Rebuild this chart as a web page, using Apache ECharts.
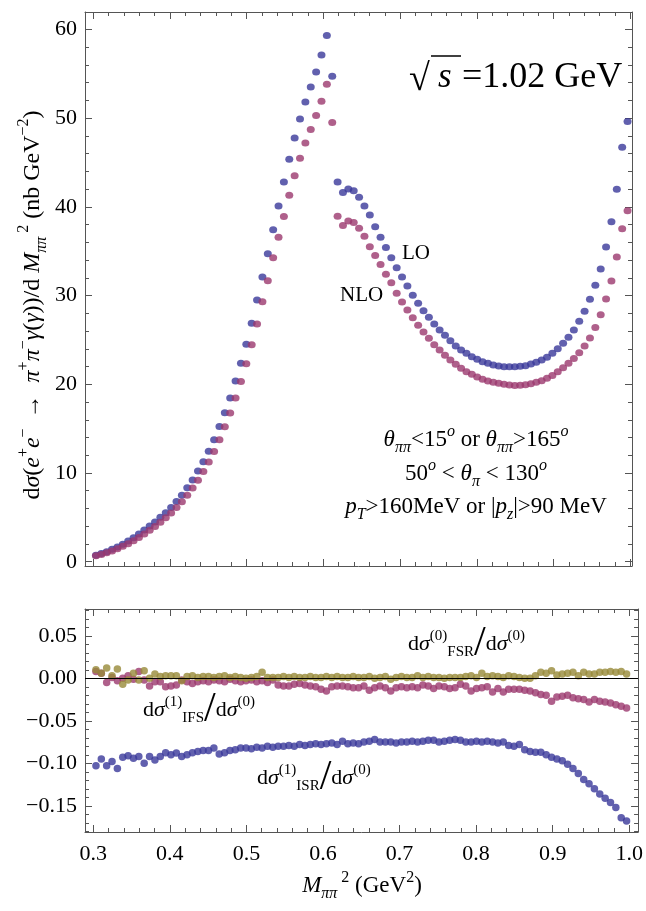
<!DOCTYPE html>
<html>
<head>
<meta charset="utf-8">
<script src="https://cdn.jsdelivr.net/npm/echarts@6/dist/echarts.min.js"></script>
<style>
html,body{margin:0;padding:0;background:#fff;}
#c{width:646px;height:911px;}
</style>
</head>
<body>
<div id="c"></div>
<script>
// ---- data ----
const M2 = [0.3035,0.3105,0.3175,0.3245,0.3315,0.3385,0.3455,0.3525,0.3595,0.3665,
0.3735,0.3805,0.3875,0.3945,0.4015,0.4085,0.4155,0.4225,0.4295,0.4365,
0.4435,0.4505,0.4575,0.4645,0.4715,0.4785,0.4855,0.4925,0.4995,0.5065,
0.5135,0.5205,0.5275,0.5345,0.5415,0.5485,0.5555,0.5625,0.5695,0.5765,
0.5835,0.5905,0.5975,0.6045,0.6115,0.6185,0.6255,0.6325,0.6395,0.6465,
0.6535,0.6605,0.6675,0.6745,0.6815,0.6885,0.6955,0.7025,0.7095,0.7165,
0.7235,0.7305,0.7375,0.7445,0.7515,0.7585,0.7655,0.7725,0.7795,0.7865,
0.7935,0.8005,0.8075,0.8145,0.8215,0.8285,0.8355,0.8425,0.8495,0.8565,
0.8635,0.8705,0.8775,0.8845,0.8915,0.8985,0.9055,0.9125,0.9195,0.9265,
0.9335,0.9405,0.9475,0.9545,0.9615,0.9685,0.9755,0.9825,0.9895,0.9965];

const LO = [0.72,0.92,1.12,1.40,1.67,1.98,2.33,2.70,3.12,3.57,
4.02,4.48,5.00,5.52,6.11,6.80,7.50,8.34,9.20,10.22,
11.27,12.46,13.76,15.25,16.80,18.45,20.37,22.36,24.50,26.87,
29.50,32.10,34.70,37.40,40.10,42.80,45.35,47.75,49.90,51.80,
53.50,55.20,57.10,59.30,54.70,42.80,41.60,42.00,41.80,41.07,
40.10,39.07,37.76,36.56,35.40,34.26,33.13,32.10,31.07,30.02,
29.12,28.29,27.54,26.79,26.11,25.51,24.90,24.31,23.86,23.49,
23.10,22.81,22.54,22.36,22.17,22.06,21.98,21.98,21.98,22.02,
22.09,22.28,22.47,22.73,23.04,23.49,24.01,24.61,25.29,26.11,
27.09,28.22,29.57,31.15,33.00,35.47,38.30,41.97,46.70,49.60];

const NLO = [0.68,0.82,1.00,1.22,1.46,1.74,2.04,2.37,2.74,3.12,
3.54,3.98,4.46,4.96,5.50,6.10,6.76,7.50,8.30,9.18,
10.18,11.25,12.42,13.75,15.20,16.75,18.45,20.30,22.30,24.45,
26.80,29.30,31.67,34.26,36.56,38.90,41.30,43.50,45.46,47.20,
48.70,50.30,51.90,53.80,49.50,38.93,37.90,38.40,38.22,37.57,
36.67,35.50,34.50,33.50,32.40,31.45,30.25,29.27,28.37,27.50,
26.64,25.89,25.18,24.46,23.86,23.26,22.73,22.25,21.80,21.41,
21.12,20.82,20.56,20.37,20.22,20.10,19.99,19.91,19.87,19.90,
19.95,20.06,20.22,20.40,20.67,21.00,21.41,21.86,22.36,22.90,
23.55,24.30,25.20,26.40,27.84,29.60,31.63,34.34,37.53,39.56];

const ISR = [-0.103,-0.095,-0.103,-0.098,-0.106,-0.093,-0.091,-0.094,-0.092,-0.100,
-0.092,-0.096,-0.092,-0.0875,-0.090,-0.088,-0.092,-0.090,-0.0875,-0.086,
-0.085,-0.085,-0.082,-0.089,-0.0875,-0.085,-0.084,-0.082,-0.082,-0.083,
-0.081,-0.082,-0.080,-0.081,-0.080,-0.080,-0.079,-0.080,-0.078,-0.079,
-0.078,-0.077,-0.078,-0.077,-0.076,-0.078,-0.074,-0.077,-0.076,-0.077,
-0.075,-0.074,-0.072,-0.075,-0.075,-0.075,-0.076,-0.075,-0.075,-0.074,
-0.075,-0.074,-0.073,-0.073,-0.075,-0.074,-0.073,-0.072,-0.073,-0.075,
-0.075,-0.074,-0.075,-0.074,-0.075,-0.076,-0.075,-0.079,-0.080,-0.078,
-0.084,-0.086,-0.087,-0.087,-0.090,-0.093,-0.095,-0.097,-0.101,-0.106,
-0.112,-0.119,-0.124,-0.130,-0.136,-0.141,-0.146,-0.152,-0.164,-0.168];

const IFS = [0.008,0.006,-0.005,0.001,-0.003,0.000,0.003,-0.001,0.008,-0.002,
-0.009,-0.004,-0.004,-0.010,-0.009,-0.008,-0.002,-0.004,-0.006,-0.004,
-0.003,-0.004,-0.002,-0.003,-0.004,-0.001,-0.003,-0.004,-0.003,-0.002,
-0.004,-0.003,-0.005,-0.002,-0.008,-0.009,-0.009,-0.007,-0.006,-0.008,
-0.009,-0.010,-0.013,-0.015,-0.010,-0.009,-0.009,-0.010,-0.011,-0.011,
-0.009,-0.014,-0.011,-0.009,-0.011,-0.015,-0.011,-0.010,-0.011,-0.010,
-0.011,-0.008,-0.009,-0.012,-0.009,-0.010,-0.012,-0.011,-0.007,-0.009,
-0.015,-0.012,-0.011,-0.010,-0.016,-0.012,-0.016,-0.013,-0.013,-0.013,
-0.014,-0.015,-0.017,-0.019,-0.020,-0.027,-0.022,-0.021,-0.020,-0.023,
-0.024,-0.025,-0.028,-0.025,-0.027,-0.028,-0.029,-0.031,-0.033,-0.035];

const FSR = [0.010,0.006,0.012,0.003,0.011,-0.007,-0.002,0.006,-0.002,0.009,
0.000,0.005,0.002,0.003,0.003,0.003,-0.003,0.002,0.003,0.001,
0.002,0.002,0.001,0.002,0.003,0.001,0.002,0.001,0.000,0.001,
0.002,0.007,0.001,0.001,0.001,0.002,0.001,0.002,0.001,0.001,
0.002,0.001,0.001,0.002,0.001,0.002,0.001,0.001,0.002,0.001,
0.001,0.002,0.000,0.001,0.002,-0.001,0.001,0.002,0.001,0.001,
0.003,0.001,0.002,0.001,0.001,0.000,0.001,0.001,0.001,0.002,
0.003,0.001,0.006,0.002,0.003,0.002,0.001,0.003,0.002,0.001,
0.000,0.000,0.003,0.007,0.006,0.009,0.004,0.005,0.006,0.007,
0.003,0.007,0.005,0.005,0.007,0.007,0.008,0.007,0.008,0.005];

const X_TICKS = [0.3,0.4,0.5,0.6,0.7,0.8,0.9,1.0];
const Y_TICKS_TOP = [0,10,20,30,40,50,60];
const Y_TICKS_BOT = [-0.15,-0.10,-0.05,0.00,0.05];

// ---- styling ----
const F = "'Liberation Serif','Times New Roman',serif";
const FRAME = '#555';
const C_BLUE = '#3a389a', C_MAG = '#9b386e', C_OLIVE = '#978938';

function minorList(a, b, step, majors) {
  const out = [];
  const n = Math.round((b - a) / step);
  for (let k = 0; k <= n; k++) {
    const v = +(a + k * step).toFixed(4);
    if (!majors.some(m => Math.abs(m - v) < 1e-9)) out.push(v);
  }
  return out;
}
const X_MINOR = minorList(0.30, 1.00, 0.02, X_TICKS);
const Y_MINOR_TOP = minorList(0, 60, 2, Y_TICKS_TOP);
const Y_MINOR_BOT = minorList(-0.18, 0.08, 0.01, Y_TICKS_BOT);

const XR = [[0.2892, 1.0023], [0.2892, 1.0115]];
const YR = [[-0.48, 61.95], [-0.1808, 0.0815]];

function xAx(grid, pos, ticks, len, line, labels) {
  return {
    type: 'value', gridIndex: grid, position: pos,
    min: XR[grid][0], max: XR[grid][1],
    splitLine: {show: false},
    axisLine: {show: line, onZero: false, lineStyle: {color: FRAME, width: 1}},
    axisTick: {show: true, inside: true, length: len, customValues: ticks, lineStyle: {color: FRAME, width: 1}},
    axisLabel: labels ? {show: true, customValues: ticks, margin: 11, color: '#000',
      fontFamily: F, fontSize: 22, formatter: v => v.toFixed(1)} : {show: false}
  };
}
function yAx(grid, pos, ticks, len, line, labels, dec) {
  return {
    type: 'value', gridIndex: grid, position: pos,
    min: YR[grid][0], max: YR[grid][1],
    splitLine: {show: false},
    axisLine: {show: line, onZero: false, lineStyle: {color: FRAME, width: 1}},
    axisTick: {show: true, inside: true, length: len, customValues: ticks, lineStyle: {color: FRAME, width: 1}},
    axisLabel: labels ? {show: true, customValues: ticks, margin: 8, color: '#000',
      fontFamily: F, fontSize: 22, formatter: v => v.toFixed(dec).replace('-', '\u2212')} : {show: false}
  };
}

function R(fs, subScale, slScale) {
  const s = Math.round(fs * (subScale || 0.66));
  const lh = Math.round(fs * 1.4);
  const b = {fontFamily: F, fontSize: fs, lineHeight: lh, fill: '#000'};
  return {
    n: b,
    i: Object.assign({}, b, {fontStyle: 'italic'}),
    sup: {fontFamily: F, fontSize: s, lineHeight: s, verticalAlign: 'top', fill: '#000'},
    supi: {fontFamily: F, fontSize: s, lineHeight: s, verticalAlign: 'top', fontStyle: 'italic', fill: '#000'},
    sub: {fontFamily: F, fontSize: s, lineHeight: s, verticalAlign: 'bottom', fill: '#000'},
    subi: {fontFamily: F, fontSize: s, lineHeight: s, verticalAlign: 'bottom', fontStyle: 'italic', fill: '#000'},
    sl: {fontFamily: F, fontSize: Math.round(fs * (slScale || 1.9)), lineHeight: lh, fill: '#000'}
  };
}
function T(x, y, text, fs, align, extra, subScale, slScale) {
  return Object.assign({
    type: 'text', x: x, y: y, silent: true, z: 100,
    style: {text: text, rich: R(fs, subScale, slScale), fontFamily: F, fontSize: fs, fill: '#000',
      align: align || 'left', verticalAlign: 'middle'}
  }, extra || {});
}

const pts = arr => M2.map((m, k) => [m, arr[k]]);

const option = {
  animation: false,
  backgroundColor: '#fff',
  grid: [
    {left: 85, top: 12, width: 547, height: 554},
    {left: 85, top: 609, width: 554, height: 223}
  ],
  xAxis: [
    xAx(0, 'bottom', X_TICKS, 7, true, false),
    xAx(0, 'bottom', X_MINOR, 4, false, false),
    xAx(0, 'top', X_TICKS, 7, true, false),
    xAx(0, 'top', X_MINOR, 4, false, false),
    xAx(1, 'bottom', X_TICKS, 7, true, true),
    xAx(1, 'bottom', X_MINOR, 4, false, false),
    xAx(1, 'top', X_TICKS, 7, true, false),
    xAx(1, 'top', X_MINOR, 4, false, false)
  ],
  yAxis: [
    yAx(0, 'left', Y_TICKS_TOP, 7, true, true, 0),
    yAx(0, 'left', Y_MINOR_TOP, 4, false, false, 0),
    yAx(0, 'right', Y_TICKS_TOP, 7, true, false, 0),
    yAx(0, 'right', Y_MINOR_TOP, 4, false, false, 0),
    yAx(1, 'left', Y_TICKS_BOT, 7, true, true, 2),
    yAx(1, 'left', Y_MINOR_BOT, 4, false, false, 2),
    yAx(1, 'right', Y_TICKS_BOT, 7, true, false, 2),
    yAx(1, 'right', Y_MINOR_BOT, 4, false, false, 2)
  ],
  series: [
    {type: 'scatter', name: 'LO', xAxisIndex: 0, yAxisIndex: 0, data: pts(LO),
      symbol: 'circle', symbolSize: [8, 7], itemStyle: {color: C_BLUE}},
    {type: 'scatter', name: 'NLO', xAxisIndex: 0, yAxisIndex: 0, data: pts(NLO),
      symbol: 'circle', symbolSize: [8, 7], itemStyle: {color: C_MAG}},
    {type: 'scatter', name: 'ISR', xAxisIndex: 4, yAxisIndex: 4, data: pts(ISR),
      symbol: 'circle', symbolSize: 7.5, itemStyle: {color: C_BLUE},
      markLine: {silent: true, symbol: 'none', label: {show: false},
        lineStyle: {color: '#000', width: 1, type: 'solid'}, data: [{yAxis: 0}]}},
    {type: 'scatter', name: 'IFS', xAxisIndex: 4, yAxisIndex: 4, data: pts(IFS),
      symbol: 'circle', symbolSize: 7.5, itemStyle: {color: C_MAG}},
    {type: 'scatter', name: 'FSR', xAxisIndex: 4, yAxisIndex: 4, data: pts(FSR),
      symbol: 'circle', symbolSize: 7.5, itemStyle: {color: C_OLIVE}}
  ],
  graphic: [
    // y axis title
    T(33, 305, '{n|d}{i|σ}{n|(}{i|e}{sup|+}{i|e}{sup|− }{n| →  }{i|π}{sup|+}{i|π}{sup|−}{i|γ}{n|(}{i|γ}{n|))/d }{i|M}{subi|ππ}{sup| 2}{n| (nb GeV}{sup|−2}{n|)}',
      24, 'center', {rotation: Math.PI / 2}, 0.66),
    // x axis title
    T(362, 886, '{i|M}{subi|ππ}{sup| 2}{n| (GeV}{sup|2}{n|)}', 23, 'center', null, 0.68),
    // sqrt(s)
    T(409, 80, '{n|√}', 38, 'left'),
    {type: 'line', silent: true, z: 100, shape: {x1: 431, y1: 56, x2: 461, y2: 56},
      style: {stroke: '#000', lineWidth: 1.5}},
    T(438, 78, '{i|s}', 35, 'left'),
    T(462, 78, '{n|=1.02 GeV}', 36, 'left'),
    // LO / NLO
    T(402, 253, '{n|LO}', 21, 'left'),
    T(340, 295, '{n|NLO}', 21, 'left'),
    // cuts
    T(476, 440, '{i|θ}{subi|ππ}{n|<15}{supi|o}{n| or }{i|θ}{subi|ππ}{n|>165}{supi|o}', 23, 'center', null, 0.68),
    T(476, 474, '{n|50}{supi|o}{n| < }{i|θ}{subi|π}{n| < 130}{supi|o}', 23, 'center', null, 0.68),
    T(476, 507, '{i|p}{subi|T}{n|>160MeV or |}{i|p}{subi|z}{n||>90 MeV}', 23, 'center', null, 0.68),
    // ratio labels
    T(408, 644, '{n|d}{i|σ}{sup|(0)}{sub|FSR}{sl|/}{n|d}{i|σ}{sup|(0)}', 22, 'left', null, 0.7),
    T(143, 710, '{n|d}{i|σ}{sup|(1)}{sub|IFS}{sl|/}{n|d}{i|σ}{sup|(0)}', 22, 'left', null, 0.7),
    T(257, 778, '{n|d}{i|σ}{sup|(1)}{sub|ISR}{sl|/}{n|d}{i|σ}{sup|(0)}', 22, 'left', null, 0.7)
  ]
};

const chart = echarts.init(document.getElementById('c'), null, {renderer: 'canvas'});
chart.setOption(option);
</script>
</body>
</html>
